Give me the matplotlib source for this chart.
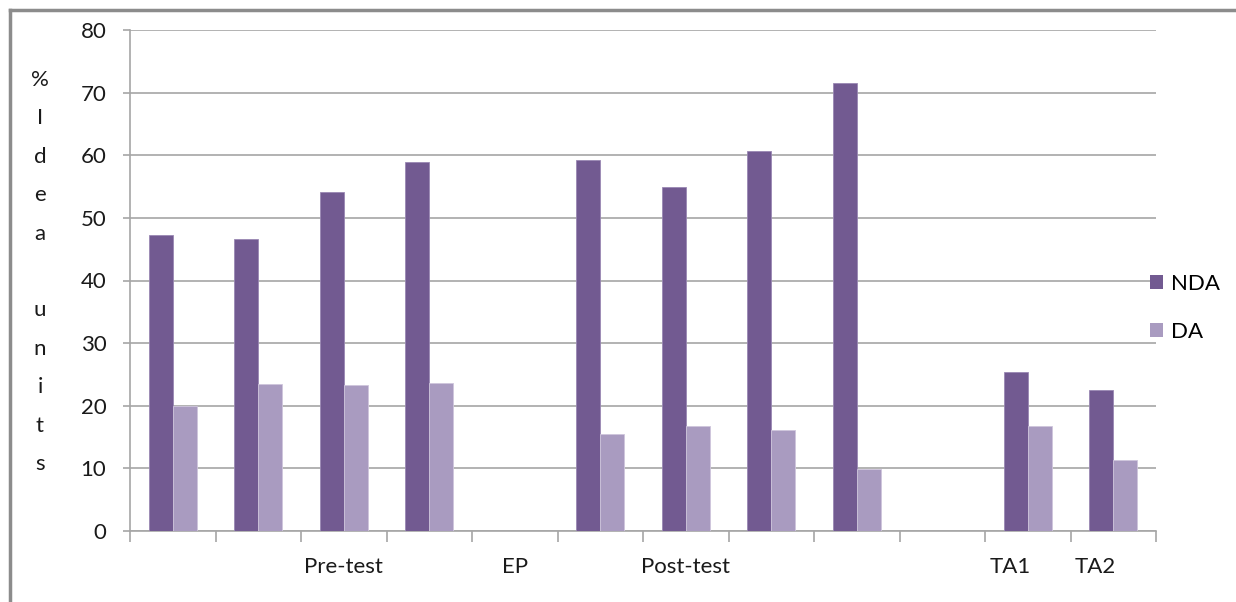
import matplotlib
matplotlib.use("Agg")
import matplotlib.pyplot as plt
import matplotlib.transforms as mtransforms
from matplotlib.patches import Patch
from matplotlib.lines import Line2D
import numpy as np

categories = ["", "", "Pre-test", "", "EP", "", "Post-test", "", "", "", "TA1", "TA2"]
nda = [47.2, 46.6, 54.1, 59.0, 0, 59.2, 54.9, 60.6, 71.5, 0, 25.4, 22.5]
da = [20.0, 23.4, 23.3, 23.6, 0, 15.5, 16.8, 16.2, 9.9, 0, 16.8, 11.3]
yticks = [0, 10, 20, 30, 40, 50, 60, 70, 80]
series_names = ["NDA", "DA"]

plt.rcParams['font.family'] = ['Lato', 'DejaVu Sans']

c_nda = "#725A91"
c_da = "#A99BC0"
grid_c = "#A6A6A6"
txt_c = "#1a1a1a"

fig = plt.figure(figsize=(12.36, 6.02), dpi=100)
ax = fig.add_axes([130/1236, 1-531/602, (1156-130)/1236, (531-30)/602])

x = np.arange(len(categories))
w = 0.28
ax.bar(x - w/2, nda, width=w, color=c_nda, edgecolor="#9A88B3", linewidth=0.6, zorder=3)
ax.bar(x + w/2, da, width=w, color=c_da, edgecolor="#CFC6DC", linewidth=0.6, zorder=3)

ax.set_xlim(-0.5, len(categories) - 0.5)
ax.set_ylim(0, 80)
ax.set_yticks(yticks)
ax.yaxis.grid(True, color=grid_c, linewidth=1.2, zorder=0)
ax.set_axisbelow(True)

for s in ["top", "right"]:
    ax.spines[s].set_visible(False)
for s in ["left", "bottom"]:
    ax.spines[s].set_color(grid_c)
    ax.spines[s].set_linewidth(1.2)

ax.tick_params(axis="y", length=5, color=grid_c, width=1.2, labelsize=16, pad=12, labelcolor=txt_c)
ax.set_xticks(x)
ax.set_xticklabels(categories)
ax.set_xticks(np.arange(-0.5, len(categories), 1.0), minor=True)
ax.tick_params(axis="x", which="major", length=0, labelsize=16, pad=19, labelcolor=txt_c)
ax.tick_params(axis="x", which="minor", length=8, color=grid_c, width=1.2)

# shift TA1/TA2 labels slightly left as in the original
offset = mtransforms.ScaledTranslation(-18/100, 0, fig.dpi_scale_trans)
for lbl in ax.get_xticklabels():
    if lbl.get_text() in ("TA1", "TA2"):
        lbl.set_transform(lbl.get_transform() + offset)

# stacked y label
fig.text(40/1236, 1-272/602, "%\nI\nd\ne\na\n\nu\nn\ni\nt\ns", ha="center", va="center",
         fontsize=16, linespacing=2.15, color=txt_c)

handles = [Patch(facecolor=c_nda, edgecolor="none"), Patch(facecolor=c_da, edgecolor="none")]
fig.legend(handles, series_names, loc="center left", bbox_to_anchor=(1150/1236, 1-308/602),
           frameon=False, fontsize=16, handlelength=0.6, handleheight=0.6, handletextpad=0.35,
           labelspacing=1.25, borderpad=0, borderaxespad=0)

# outer border (top and left) as in the screenshot
fig.add_artist(Line2D([10/1236, 10/1236], [0, 1-10/602], transform=fig.transFigure, color="#8C8C8C", lw=2.5))
fig.add_artist(Line2D([10/1236, 1], [1-10/602, 1-10/602], transform=fig.transFigure, color="#8C8C8C", lw=2.5))

fig.savefig("out.png", dpi=100)
